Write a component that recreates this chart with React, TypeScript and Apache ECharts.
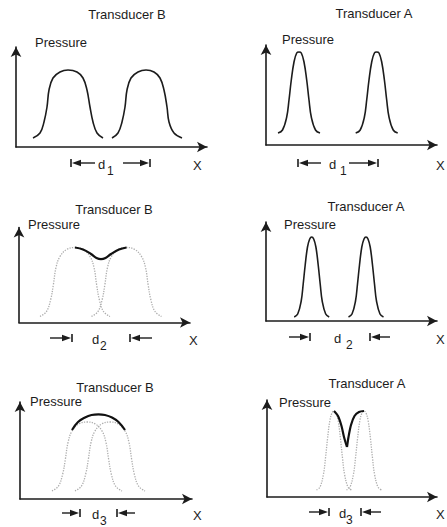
import React, { useEffect, useRef } from "react";
import * as echarts from "echarts";

// ---- Data (x position / pressure, per panel) ----
const titles = ["Transducer B", "Transducer A", "Transducer B", "Transducer A", "Transducer B", "Transducer A"];
const yName = "Pressure";
const xName = "X";
const distLabels = ["1", "1", "2", "2", "3", "3"];

// Panel 1: Transducer B, separation d1
const p1BellLeft = [[17,9],[24,14],[28,25],[31,40],[33,57],[37,69],[44,75],[52,77],[61,75],[67,69],[71,57],[74,40],[77,25],[81,14],[87,9]];
const p1BellRight = [[96,9],[102,14],[106,25],[109,40],[111,57],[115,69],[122,75],[130,77],[138,75],[144,69],[148,57],[151,40],[153,25],[158,14],[166,9]];
// Panel 2: Transducer A, separation d1
const p2BellLeft = [[12,12],[16.5,15],[20.7,28],[23,45],[25.3,65],[28,83],[30.7,92],[33,93],[35.3,92],[38,83],[40.7,65],[43,45],[45.3,28],[49.5,15],[54,12]];
const p2BellRight = [[89.7,12],[94.2,15],[98.4,28],[100.7,45],[103,65],[105.7,83],[108.4,92],[110.7,93],[113,92],[115.7,83],[118.4,65],[120.7,45],[123,28],[127.2,15],[131.7,12]];
// Panel 3: Transducer B, separation d2 (overlapping)
const p3BellLeft = [[21,6],[27.5,11],[31.7,23],[34.4,38],[37,55],[41,66],[47.7,73],[56,75],[64.3,73],[71,66],[75,55],[77.6,38],[80.3,23],[84.5,11],[91,6]];
const p3BellRight = [[72.5,6],[79,11],[83.2,23],[85.9,38],[88.5,55],[92.5,66],[99.2,73],[107.5,75],[115.8,73],[122.5,66],[126.5,55],[129.1,38],[131.8,23],[136,11],[142.5,6]];
const p3Sum = [[56,75],[64,73],[72,68.5],[77.5,64.5],[82,63.3],[86.5,64.5],[92,68.5],[100,73],[107.5,75]];
// Panel 4: Transducer A, separation d2
const p4BellLeft = [[28.2,4],[31.7,7],[35.2,20],[37.2,37],[39.2,56],[41.5,74],[43.7,82],[45.7,84],[47.7,82],[49.9,74],[52.2,56],[54.2,37],[56.2,20],[59.7,7],[63.2,4]];
const p4BellRight = [[82.5,4],[86,7],[89.5,20],[91.5,37],[93.5,56],[95.8,74],[98,82],[100,84],[102,82],[104.2,74],[106.5,56],[108.5,37],[110.5,20],[114,7],[117.5,4]];
// Panel 5: Transducer B, separation d3
const p5BellLeft = [[32,8],[38.5,13],[42.7,25],[45.4,40],[48,56.5],[52,68],[58.7,75],[67,77],[75.3,75],[82,68],[86,56.5],[88.6,40],[91.3,25],[95.5,13],[102,8]];
const p5BellRight = [[55,8],[61.5,13],[65.7,25],[68.4,40],[71,56.5],[75,68],[81.7,75],[90,77],[98.3,75],[105,68],[109,56.5],[111.6,40],[114.3,25],[118.5,13],[125,8]];
const p5Sum = [[52,69],[58,77],[65,81.5],[71.5,84],[78.5,84.7],[85,84],[92,81.5],[98.5,77],[105,69]];
// Panel 6: Transducer A, separation d3
const p6BellLeft = [[49.5,7],[53,10],[56.5,23],[58.5,39],[60.5,58],[62.8,76],[65,84],[67,86],[69,84],[71.2,76],[73.5,58],[75.5,39],[77.5,23],[81,10],[84.5,7]];
const p6BellRight = [[79.5,7],[83,10],[86.5,23],[88.5,39],[90.5,58],[92.8,76],[95,84],[97,86],[99,84],[101.2,76],[103.5,58],[105.5,39],[107.5,23],[111,10],[114.5,7]];
const p6SumLeft = [[67,86],[71,81],[74.5,71],[77,60],[80,50]];
const p6SumRight = [[80,50],[81.5,60],[84,72],[87.5,81],[92,85],[97,86]];

// ---- Layout ----
const FONT = '"Liberation Sans", Arial, Helvetica, sans-serif';
const INK = "#1c1c1c";
const GREY = "#adadad";

const grids = [
  { left: 16, top: 47, width: 191, height: 100 },
  { left: 266, top: 45, width: 171, height: 100 },
  { left: 19, top: 227.5, width: 171, height: 95 },
  { left: 266, top: 222, width: 171, height: 99 },
  { left: 20, top: 402, width: 172, height: 97 },
  { left: 267, top: 400, width: 170, height: 97 },
];
const titlePos = [[127, 14], [374, 13], [114, 209], [366, 206], [115, 387], [367, 383]];
const pressurePos = [[35, 42], [282, 39], [28, 224], [284, 224], [30, 401], [279, 402]];
// annotation: row y, left bar, left outer/inner end, d x, sub x, right bar, right outer/inner end, X x, kind
const annos = [
  { y: 163, xL: 71, eL: 95, dx: 98, sx: 107, xR: 150, eR: 123, X: 193, kind: "in" },
  { y: 163, xL: 298, eL: 321, dx: 329, sx: 340, xR: 378, eR: 349, X: 436, kind: "in" },
  { y: 338, xL: 72, eL: 50, dx: 92, sx: 100, xR: 130, eR: 152, X: 189, kind: "out" },
  { y: 337, xL: 310, eL: 289, dx: 334, sx: 346, xR: 370, eR: 390, X: 436, kind: "out" },
  { y: 513, xL: 80, eL: 62, dx: 92, sx: 100, xR: 117, eR: 135, X: 193, kind: "out" },
  { y: 512, xL: 329, eL: 309, dx: 339, sx: 346, xR: 361, eR: 381, X: 436, kind: "out" },
];

function txt(x: number, y: number, text: string, size: number, align = "left") {
  return {
    type: "text",
    x,
    y,
    silent: true,
    style: {
      text,
      fill: INK,
      font: `${size}px ${FONT}`,
      textAlign: align,
      textVerticalAlign: "middle",
      align,
      verticalAlign: "middle",
    },
  };
}
function seg(x1: number, y1: number, x2: number, y2: number, w = 1.4) {
  return { type: "line", silent: true, shape: { x1, y1, x2, y2 }, style: { stroke: INK, lineWidth: w } };
}
function head(tipX: number, y: number, dir: number) {
  // dir = -1 points left, +1 points right
  return {
    type: "polygon",
    silent: true,
    shape: { points: [[tipX, y], [tipX - dir * 9, y - 3.3], [tipX - dir * 9, y + 3.3]] },
    style: { fill: INK },
  };
}

function buildGraphic() {
  const g: any[] = [];
  titles.forEach((t, i) => g.push(txt(titlePos[i][0], titlePos[i][1], t, 13, "center")));
  pressurePos.forEach((p) => g.push(txt(p[0], p[1], yName, 13)));
  annos.forEach((a, i) => {
    g.push(seg(a.xL, a.y - 4, a.xL, a.y + 4, 1.6));
    g.push(seg(a.xR, a.y - 4, a.xR, a.y + 4, 1.6));
    if (a.kind === "in") {
      g.push(head(a.xL + 1, a.y, -1));
      g.push(seg(a.xL + 8, a.y, a.eL, a.y));
      g.push(head(a.xR - 1, a.y, 1));
      g.push(seg(a.eR, a.y, a.xR - 8, a.y));
    } else {
      g.push(seg(a.eL, a.y, a.xL - 8, a.y));
      g.push(head(a.xL - 1, a.y, 1));
      g.push(head(a.xR + 1, a.y, -1));
      g.push(seg(a.xR + 8, a.y, a.eR, a.y));
    }
    g.push(txt(a.dx, a.y + 1, "d", 13));
    g.push(txt(a.sx, a.y + 8, distLabels[i], 12));
    g.push(txt(a.X, a.y + 2, xName, 13));
  });
  return g;
}

function curve(data: number[][], idx: number, kind: "solid" | "dotted" | "sum", smooth = 0.4) {
  const style =
    kind === "dotted"
      ? { color: GREY, width: 1.3, type: "dotted" }
      : kind === "sum"
      ? { color: "#111", width: 2.2, type: "solid" }
      : { color: INK, width: 1.6, type: "solid" };
  return {
    type: "line",
    xAxisIndex: idx,
    yAxisIndex: idx,
    data,
    symbol: "none",
    showSymbol: false,
    smooth,
    silent: true,
    clip: false,
    z: kind === "sum" ? 5 : 3,
    lineStyle: style,
  };
}

export default function App() {
  const ref = useRef<HTMLDivElement>(null);
  useEffect(() => {
    if (!ref.current) return;
    const chart = echarts.init(ref.current, undefined, { renderer: "svg" });
    const axisLine = {
      show: true,
      onZero: false,
      symbol: ["none", "arrow"],
      symbolSize: [8, 10],
      lineStyle: { color: INK, width: 1.6 },
    };
    const hidden = {
      axisTick: { show: false },
      axisLabel: { show: false },
      splitLine: { show: false },
    };
    const option: any = {
      animation: false,
      backgroundColor: "#ffffff",
      grid: grids.map((g) => ({ ...g, containLabel: false })),
      xAxis: grids.map((g, i) => ({
        type: "value",
        gridIndex: i,
        min: 0,
        max: g.width,
        axisLine,
        ...hidden,
      })),
      yAxis: grids.map((g, i) => ({
        type: "value",
        gridIndex: i,
        min: 0,
        max: g.height,
        axisLine,
        ...hidden,
      })),
      series: [
        curve(p1BellLeft, 0, "solid"),
        curve(p1BellRight, 0, "solid"),
        curve(p2BellLeft, 1, "solid"),
        curve(p2BellRight, 1, "solid"),
        curve(p3BellLeft, 2, "dotted"),
        curve(p3BellRight, 2, "dotted"),
        curve(p3Sum, 2, "sum"),
        curve(p4BellLeft, 3, "solid"),
        curve(p4BellRight, 3, "solid"),
        curve(p5BellLeft, 4, "dotted"),
        curve(p5BellRight, 4, "dotted"),
        curve(p5Sum, 4, "sum"),
        curve(p6BellLeft, 5, "dotted"),
        curve(p6BellRight, 5, "dotted"),
        curve(p6SumLeft, 5, "sum", 0.3),
        curve(p6SumRight, 5, "sum", 0.3),
      ],
      graphic: buildGraphic(),
    };
    chart.setOption(option);
    return () => chart.dispose();
  }, []);
  return (
    <div
      ref={ref}
      style={{ position: "fixed", left: 0, top: 0, width: 447, height: 527, background: "#fff" }}
    />
  );
}
